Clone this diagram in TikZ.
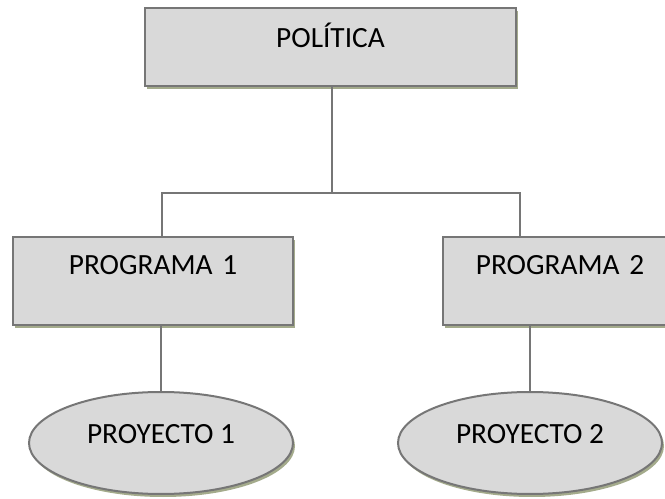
\documentclass[tikz,border=0pt]{standalone}
\usepackage{fontspec}
\setmainfont{Carlito}
\usepackage{xcolor}
\usepackage{tikz}
\usetikzlibrary{positioning,shapes.geometric,shadows}
\definecolor{boxgray}{RGB}{217, 217, 217}
\definecolor{edgegray}{RGB}{118, 118, 118}
\definecolor{shadeolive}{RGB}{164, 171, 140}

\begin{document}
\begin{tikzpicture}[
    x=0.75pt, y=-0.75pt,
    olive shadow/.style={drop shadow={shadow xshift=1.5pt, shadow yshift=-2.25pt,
                         draw=none, fill=shadeolive, opacity=1}},
    unitbox/.style={rectangle, draw=edgegray, line width=1.5pt, fill=boxgray,
                    olive shadow, inner sep=0pt, align=center,
                    font=\fontsize{22}{26}\selectfont},
    projbox/.style={ellipse, draw=edgegray, line width=1.5pt, fill=boxgray,
                    olive shadow, inner sep=0pt, minimum width=198pt,
                    minimum height=76.5pt, text height=14.5pt, text depth=14.5pt,
                    font=\fontsize{22}{26}\selectfont},
    link/.style={draw=edgegray, line width=1.5pt}
]
\useasboundingbox (0,0) rectangle (665,499);
\clip (0,0) rectangle (665,499);
\node[unitbox, text width=278.25pt, text height=29.5pt, text depth=29pt] (pol) at (330.5,47) {POLÍTICA};
\node[unitbox, text width=210pt, text height=28.5pt, text depth=37.5pt] (prog1) at (153,281) {PROGRAMA 1};
\node[unitbox, text width=175.5pt, text height=28.5pt, text depth=37.5pt] (prog2) at (560,281) {PROGRAMA 2};
\node[projbox] (proy1) at (161,443) {PROYECTO 1};
\node[projbox] (proy2) at (530,443) {PROYECTO 2};
\coordinate (busL) at (162,193);
\coordinate (busR) at (520,193);
\draw[link] (pol.south -| 332,0) -- (332,193);
\draw[link] (busL |- prog1.north) -- (busL) -- (busR) -- (busR |- prog2.north);
\draw[link] (proy1.north |- prog1.south) -- (proy1.north);
\draw[link] (prog2.south -| proy2.north) -- (proy2.north);
\end{tikzpicture}
\end{document}
